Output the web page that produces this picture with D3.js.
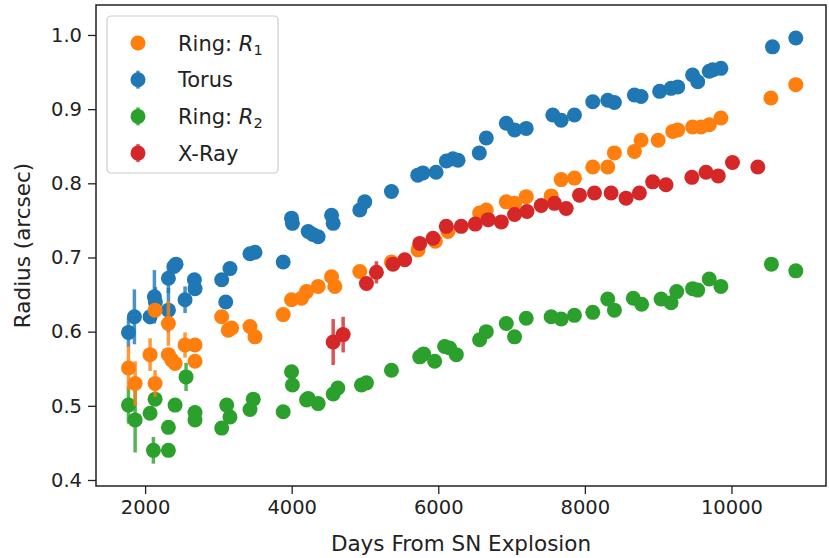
<!DOCTYPE html>
<html><head><meta charset="utf-8">
<script src="https://cdn.jsdelivr.net/npm/d3@7"></script>
<style>body{margin:0;background:#fff}svg{display:block}text{font-family:"DejaVu Sans",sans-serif;fill:#222}</style>
</head><body><div id="chart"></div>
<script>
// Data: [day, radius, error]
const torus = [[1773,0.599,0.02],[1854,0.620,0.037],[2068,0.620,0.01],[2127,0.647,0.036],[2140,0.640,0.02],[2318,0.629,0.03],[2318,0.672,0.02],[2395,0.688,0],[2422,0.691,0],[2545,0.643,0.018],[2672,0.670,0],[2681,0.658,0],[3045,0.670,0],[3100,0.640,0],[3158,0.685,0],[3431,0.705,0],[3499,0.707,0],[3884,0.694,0],[3998,0.753,0],[4010,0.746,0],[4225,0.735,0],[4290,0.731,0],[4361,0.728,0],[4544,0.757,0],[4566,0.746,0],[4929,0.764,0],[4997,0.775,0],[5361,0.789,0],[5720,0.811,0],[5790,0.814,0],[5970,0.815,0],[6110,0.830,0],[6200,0.833,0],[6270,0.831,0],[6560,0.841,0],[6655,0.861,0],[6928,0.881,0],[7041,0.872,0],[7200,0.874,0],[7563,0.892,0],[7677,0.885,0],[7858,0.892,0],[8108,0.910,0],[8312,0.912,0],[8403,0.909,0],[8676,0.919,0],[8767,0.917,0],[9020,0.924,0],[9176,0.928,0],[9267,0.930,0],[9470,0.946,0],[9540,0.937,0],[9697,0.951,0],[9743,0.953,0],[9856,0.955,0],[10560,0.984,0],[10878,0.996,0]];
const ringR1 = [[1773,0.551,0.03],[1864,0.530,0.03],[2068,0.569,0.022],[2136,0.530,0.018],[2136,0.629,0],[2318,0.611,0.03],[2318,0.569,0],[2363,0.562,0],[2409,0.557,0],[2545,0.582,0.017],[2681,0.582,0],[2681,0.560,0],[3045,0.620,0],[3135,0.602,0],[3181,0.605,0],[3431,0.607,0],[3499,0.593,0],[3884,0.623,0],[3998,0.643,0],[4134,0.645,0],[4203,0.654,0],[4361,0.661,0],[4544,0.674,0],[4589,0.661,0],[4929,0.681,0],[5361,0.694,0],[5724,0.710,0],[5960,0.722,0],[6132,0.735,0],[6564,0.760,0],[6655,0.764,0],[6928,0.775,0],[7041,0.773,0],[7200,0.782,0],[7540,0.783,0],[7677,0.805,0],[7858,0.807,0],[8108,0.822,0],[8312,0.822,0],[8403,0.841,0],[8676,0.843,0],[8767,0.858,0],[9000,0.858,0],[9199,0.870,0],[9267,0.872,0],[9470,0.876,0],[9584,0.876,0],[9697,0.879,0],[9856,0.888,0],[10538,0.915,0],[10878,0.933,0]];
const ringR2 = [[1773,0.501,0.025],[1864,0.481,0.044],[2068,0.490,0],[2113,0.440,0.018],[2136,0.509,0],[2318,0.440,0],[2318,0.471,0],[2409,0.501,0],[2559,0.539,0.019],[2681,0.491,0],[2681,0.481,0],[3045,0.470,0],[3113,0.501,0],[3158,0.485,0],[3431,0.495,0],[3476,0.509,0],[3884,0.492,0],[3998,0.546,0],[4010,0.528,0],[4203,0.508,0],[4225,0.510,0],[4361,0.503,0],[4566,0.516,0],[4630,0.524,0],[4952,0.528,0],[5020,0.531,0],[5361,0.548,0],[5747,0.566,0],[5800,0.570,0],[5951,0.560,0],[6087,0.580,0],[6155,0.578,0],[6246,0.569,0],[6564,0.589,0],[6655,0.600,0],[6928,0.611,0],[7041,0.593,0],[7200,0.618,0],[7540,0.620,0],[7677,0.617,0],[7858,0.622,0],[8108,0.626,0],[8312,0.644,0],[8403,0.629,0],[8661,0.645,0],[8775,0.637,0],[9040,0.644,0],[9176,0.639,0],[9253,0.654,0],[9470,0.658,0],[9540,0.656,0],[9697,0.671,0],[9856,0.661,0],[10545,0.691,0],[10878,0.682,0]];
const xray = [[4566,0.586,0.031],[4702,0.596,0.024],[5020,0.665,0.008],[5156,0.680,0.015],[5382,0.691,0],[5542,0.697,0],[5747,0.719,0],[5929,0.726,0],[6109,0.742,0],[6313,0.742,0],[6505,0.745,0],[6681,0.751,0],[6860,0.748,0],[7041,0.758,0],[7210,0.762,0],[7404,0.770,0],[7586,0.773,0],[7745,0.766,0],[7927,0.784,0],[8131,0.787,0],[8358,0.787,0],[8562,0.780,0],[8744,0.787,0],[8925,0.802,0],[9107,0.798,0],[9460,0.808,0],[9653,0.815,0],[9820,0.810,0],[10014,0.828,0],[10360,0.822,0]];
const xTicks = [2000,4000,6000,8000,10000];
const yTicks = [0.4,0.5,0.6,0.7,0.8,0.9,1.0];
const xLabel = "Days From SN Explosion";
const yLabel = "Radius (arcsec)";

const W=829,H=558;
const m={l:96,r:3,t:5,b:72};
const svg=d3.select("#chart").append("svg").attr("width",W).attr("height",H);
svg.append("rect").attr("width",W).attr("height",H).attr("fill","#fff");
const x=d3.scaleLinear().domain([1330,11290]).range([m.l,W-m.r]);
const y=d3.scaleLinear().domain([0.3919,1.0404]).range([H-m.b,m.t]);

const series=[
 {data:torus,color:"#1f77b4"},
 {data:ringR2,color:"#2ca02c"},
 {data:ringR1,color:"#ff7f0e"},
 {data:xray,color:"#d62728"}
];
const plot=svg.append("g");
series.forEach(s=>{
  const g=plot.append("g");
  g.selectAll("line").data(s.data.filter(d=>d[2]>0)).join("line")
   .attr("x1",d=>x(d[0])).attr("x2",d=>x(d[0]))
   .attr("y1",d=>y(d[1]-d[2])).attr("y2",d=>y(d[1]+d[2]))
   .attr("stroke",s.color).attr("stroke-width",3.5).attr("stroke-opacity",0.8);
  g.selectAll("circle").data(s.data).join("circle")
   .attr("cx",d=>x(d[0])).attr("cy",d=>y(d[1])).attr("r",7.5).attr("fill",s.color);
});

// axes
const xa=svg.append("g").attr("transform",`translate(0,${H-m.b})`)
 .call(d3.axisBottom(x).tickValues(xTicks).tickSize(8).tickPadding(6).tickFormat(d3.format("d")));
const ya=svg.append("g").attr("transform",`translate(${m.l},0)`)
 .call(d3.axisLeft(y).tickValues(yTicks).tickSize(8).tickPadding(6).tickFormat(d3.format(".1f")));
[xa,ya].forEach(a=>{a.select(".domain").remove();a.selectAll("line").attr("stroke","#222").attr("stroke-width",1.3);a.selectAll("text").attr("font-size",19.5).attr("fill","#222");});
svg.append("rect").attr("x",m.l).attr("y",m.t).attr("width",W-m.r-m.l).attr("height",H-m.b-m.t)
 .attr("fill","none").attr("stroke","#222").attr("stroke-width",1.5);

svg.append("text").attr("x",(m.l+W-m.r)/2).attr("y",551).attr("text-anchor","middle").attr("font-size",21.5).text(xLabel);
svg.append("text").attr("transform",`translate(30,${(m.t+H-m.b)/2}) rotate(-90)`).attr("text-anchor","middle").attr("font-size",21.5).text(yLabel);

// legend
const lg=svg.append("g");
lg.append("rect").attr("x",107).attr("y",16).attr("width",171).attr("height",157).attr("rx",4)
 .attr("fill","#fff").attr("fill-opacity",0.8).attr("stroke","#ccc").attr("stroke-width",1.2);
const items=[{name:"Ring: ",sub:"1",color:"#ff7f0e",bar:false},{name:"Torus",color:"#1f77b4",bar:true},{name:"Ring: ",sub:"2",color:"#2ca02c",bar:true},{name:"X-Ray",color:"#d62728",bar:true}];
items.forEach((it,i)=>{
  const cy=43+i*36.7;
  if(it.bar) lg.append("line").attr("x1",138).attr("x2",138).attr("y1",cy-9).attr("y2",cy+9).attr("stroke",it.color).attr("stroke-width",3.5).attr("stroke-opacity",0.8);
  lg.append("circle").attr("cx",138).attr("cy",cy).attr("r",7.5).attr("fill",it.color);
  const t=lg.append("text").attr("x",178).attr("y",cy+7.5).attr("font-size",21);
  t.append("tspan").text(it.name);
  if(it.sub){
    t.append("tspan").attr("font-style","italic").text("R");
    t.append("tspan").attr("font-size",14.5).attr("dy",4.5).text(it.sub);
  }
});
</script></body></html>
